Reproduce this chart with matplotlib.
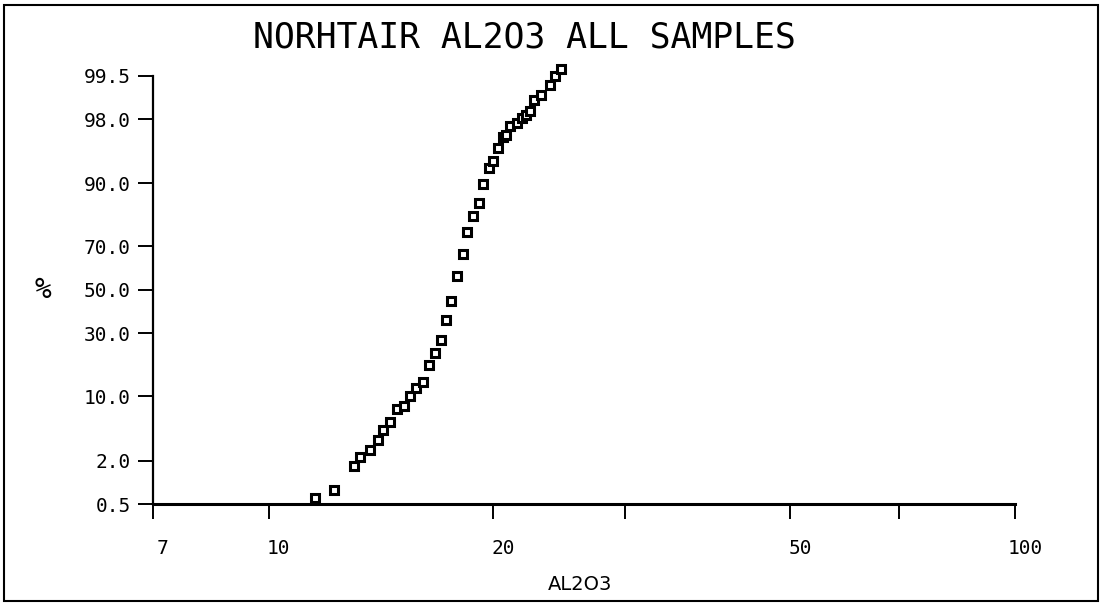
from statistics import NormalDist

import matplotlib
matplotlib.use('Agg')
import matplotlib.pyplot as plt
import matplotlib.transforms as mtransforms
from matplotlib.patches import Rectangle

# AL2O3 values (x, log scale) and cumulative percent (y, probability scale)
al2o3 = [11.54, 12.24, 13.02, 13.26, 13.68, 14.00, 14.24, 14.55, 14.87, 15.17,
         15.48, 15.76, 16.11, 16.39, 16.69, 17.00, 17.28, 17.56, 17.89, 18.19,
         18.46, 18.80, 19.12, 19.39, 19.72, 19.96, 20.29, 20.62, 20.79, 21.04,
         21.55, 21.87, 22.14, 22.41, 22.69, 23.19, 23.84, 24.21, 24.62]
percent = [0.61, 0.80, 1.70, 2.19, 2.70, 3.55, 4.59, 5.66, 7.59, 8.12,
           10.08, 11.89, 13.46, 18.30, 22.37, 27.12, 35.62, 44.43, 56.47, 66.69,
           75.79, 81.28, 85.19, 89.81, 92.87, 93.94, 95.60, 96.70, 96.87, 97.56,
           97.76, 98.06, 98.25, 98.44, 98.87, 99.05, 99.32, 99.49, 99.61]

y_ticks = [0.5, 2.0, 10.0, 30.0, 50.0, 70.0, 90.0, 98.0, 99.5]
x_ticks = [7, 10, 20, 30, 50, 70, 100]
x_labels = ['7', '10', '20', '', '50', '', '100']

nd = NormalDist()


def probit(p):
    return nd.inv_cdf(p / 100.0)


mono = 'DejaVu Sans Mono'

fig = plt.figure(figsize=(11.07, 6.05), dpi=100)
ax = fig.add_axes([153 / 1107, 1 - 504 / 605, (1015 - 153) / 1107, (504 - 75.7) / 605])

ax.plot(al2o3, [probit(p) for p in percent], linestyle='none', marker='s',
        markersize=5.5, markerfacecolor='white', markeredgecolor='black',
        markeredgewidth=2.2, clip_on=False)

ax.set_xscale('log')
ax.set_xlim(7, 100)
ax.set_ylim(probit(0.5), probit(99.5))

ax.set_xticks(x_ticks)
ax.set_xticklabels(x_labels, fontfamily=mono, fontsize=14)
ax.xaxis.set_minor_locator(plt.NullLocator())
ax.set_yticks([probit(v) for v in y_ticks])
ax.set_yticklabels(['%.1f' % v for v in y_ticks], fontfamily=mono, fontsize=14)

ax.tick_params(axis='x', direction='out', length=11, width=1.4, pad=14)
ax.tick_params(axis='y', direction='out', length=11, width=1.4, pad=5)

# shift the x labels a little to the right, like the plotter did
offset = mtransforms.ScaledTranslation(10 / 100, 0, fig.dpi_scale_trans)
for lab in ax.get_xticklabels():
    lab.set_transform(lab.get_transform() + offset)

for side in ['top', 'right']:
    ax.spines[side].set_visible(False)
ax.spines['left'].set_linewidth(1.6)
ax.spines['bottom'].set_linewidth(2.2)

fig.text(524 / 1107, 1 - 38 / 605, 'NORHTAIR AL2O3 ALL SAMPLES',
         ha='center', va='center', fontfamily=mono, fontsize=25)
fig.text(580 / 1107, 1 - 584 / 605, 'AL2O3', ha='center', va='center',
         fontfamily=['Liberation Sans Narrow', 'DejaVu Sans'], fontsize=14)
fig.text(43 / 1107, 1 - 290 / 605, '%', ha='center', va='center',
         fontfamily=mono, fontsize=20, fontstyle='italic')

# outer frame of the plotter sheet
fig.patches.append(Rectangle((4 / 1107, 4 / 605), 1094 / 1107, 596 / 605,
                             transform=fig.transFigure, fill=False,
                             edgecolor='black', linewidth=1.5))

fig.savefig('out.png', dpi=100)
